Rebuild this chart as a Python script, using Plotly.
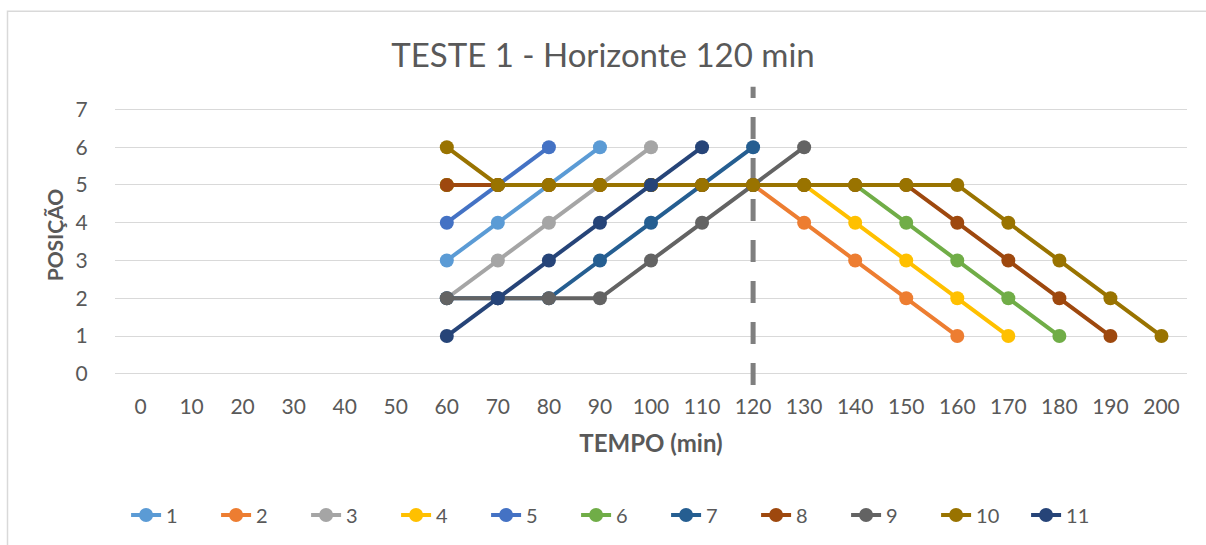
import plotly.graph_objects as go

W, H = 1206, 545
tempo = list(range(0, 210, 10))
N = None
series_names = ["1", "2", "3", "4", "5", "6", "7", "8", "9", "10", "11"]
s1 = [N]*6 + [3, 4, 5, 6] + [N]*11
s2 = [N]*6 + [5, 5, 5, 5, 5, 5, 5, 4, 3, 2, 1] + [N]*4
s3 = [N]*6 + [2, 3, 4, 5, 6] + [N]*10
s4 = [N]*6 + [5, 5, 5, 5, 5, 5, 5, 5, 4, 3, 2, 1] + [N]*3
s5 = [N]*6 + [4, 5, 6] + [N]*12
s6 = [N]*6 + [5, 5, 5, 5, 5, 5, 5, 5, 5, 4, 3, 2, 1] + [N]*2
s7 = [N]*6 + [2, 2, 2, 3, 4, 5, 6] + [N]*8
s8 = [N]*6 + [5, 5, 5, 5, 5, 5, 5, 5, 5, 5, 4, 3, 2, 1] + [N]*1
s9 = [N]*6 + [2, 2, 2, 2, 3, 4, 5, 6] + [N]*7
s10 = [N]*6 + [6, 5, 5, 5, 5, 5, 5, 5, 5, 5, 5, 4, 3, 2, 1]
s11 = [N]*6 + [1, 2, 3, 4, 5, 6] + [N]*9
all_series = [s1, s2, s3, s4, s5, s6, s7, s8, s9, s10, s11]
colors = ["#5B9BD5", "#ED7D31", "#A5A5A5", "#FFC000", "#4472C4", "#70AD47",
          "#255E91", "#9E480E", "#636363", "#997300", "#264478"]
horizonte = 120
y_ticks = list(range(0, 8))

FONT = "Lato, Calibri, Carlito, sans-serif"
TXT = "#595959"

# layout geometry (pixels)
pl, pr = 115, 1187
pt, pb = 82.5, 387.25

fig = go.Figure()
for name, vals, c in zip(series_names, all_series, colors):
    fig.add_trace(go.Scatter(
        x=tempo, y=vals, name=name, mode="lines+markers",
        line=dict(color=c, width=4),
        marker=dict(color=c, size=14),
        connectgaps=False,
    ))

def px_x(px):
    return (px - pl) / (pr - pl)

def px_y(py):
    return (pb - py) / (pb - pt)

fig.add_shape(type="line", xref="x", yref="y", x0=horizonte, x1=horizonte,
              y0=-0.3, y1=7.6, layer="between",
              line=dict(color="#7F7F7F", width=5, dash="22px,19px"))
fig.add_shape(type="rect", xref="paper", yref="paper",
              x0=px_x(7.5), x1=px_x(1215), y0=px_y(10.5), y1=px_y(560),
              line=dict(color="#D9D9D9", width=1.5), layer="below")

fig.update_layout(
    width=W, height=H,
    margin=dict(l=pl, r=W - pr, t=pt, b=H - pb),
    paper_bgcolor="white", plot_bgcolor="white",
    font=dict(family=FONT, color=TXT, size=21),
    title=dict(text="TESTE 1 - Horizonte 120 min", x=0.5, xref="container",
               y=1 - 55 / H, yref="container", xanchor="center", yanchor="middle",
               font=dict(size=33, color=TXT, family=FONT)),
    showlegend=True,
    legend=dict(orientation="h", xref="container", yref="container",
                x=0.515, y=1 - 515 / H, xanchor="center", yanchor="middle",
                font=dict(size=20, color=TXT), entrywidth=45,
                entrywidthmode="pixels", traceorder="normal"),
    xaxis=dict(range=[-5, 205], tickvals=tempo, ticktext=[str(t) for t in tempo],
               showgrid=False, zeroline=False, showline=False,
               ticks="outside", ticklen=1, tickcolor="rgba(0,0,0,0)",
               tickfont=dict(size=21, color=TXT),
               title=dict(text="<b>TEMPO (min)</b>", standoff=17,
                          font=dict(size=24, color=TXT))),
    yaxis=dict(range=[-0.35, 7.7], tickvals=y_ticks, showgrid=True,
               gridcolor="#D9D9D9", gridwidth=1.3, zeroline=False, showline=False,
               ticks="outside", ticklen=22, tickcolor="rgba(0,0,0,0)",
               tickfont=dict(size=21, color=TXT),
               title=dict(text="<b>POSIÇÃO</b>", standoff=6,
                          font=dict(size=21, color=TXT))),
)

fig.write_html("out.html")
